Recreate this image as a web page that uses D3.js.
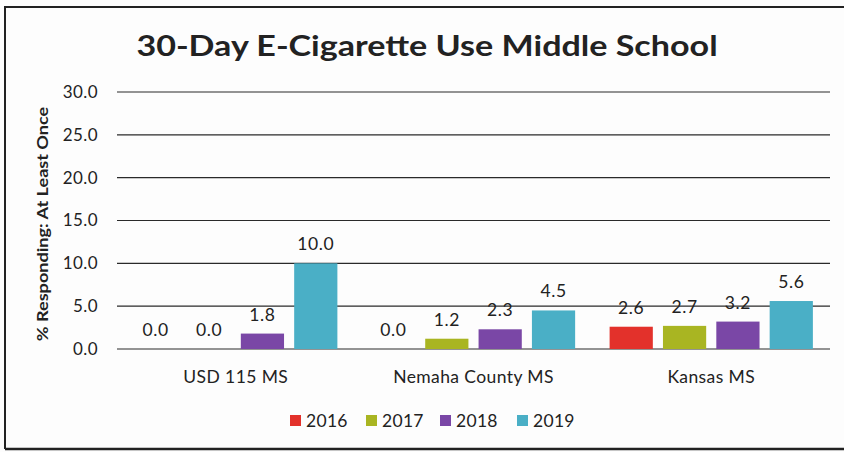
<!DOCTYPE html>
<html><head><meta charset="utf-8">
<script src="https://cdn.jsdelivr.net/npm/d3@7"></script>
<style>body{margin:0;background:#fff}svg{display:block}</style>
</head><body>
<svg id="c" width="844" height="452"></svg>
<script>
const categories = ["USD 115 MS", "Nemaha County MS", "Kansas MS"];
const years = ["2016", "2017", "2018", "2019"];
const values2016 = [0.0, 0.0, 2.6];
const values2017 = [0.0, 1.2, 2.7];
const values2018 = [1.8, 2.3, 3.2];
const values2019 = [10.0, 4.5, 5.6];
const yTicks = [0, 5, 10, 15, 20, 25, 30];
const colors = ["#e3312b", "#a9b522", "#7a47a6", "#4aafc6"];
const series = [values2016, values2017, values2018, values2019];

(function () {
const svg = d3.select("#c");
const font = "Lato, 'Open Sans', sans-serif";
const ink = "#222";

svg.append("rect").attr("x", 0).attr("y", 0).attr("width", 844).attr("height", 452).attr("fill", "#fdfdfd");
// frame
svg.append("path").attr("d", "M5,449 L5,7 L844,7").attr("fill", "none").attr("stroke", "#222").attr("stroke-width", 2);
svg.append("line").attr("x1", 5).attr("x2", 844).attr("y1", 449).attr("y2", 449).attr("stroke", "#222").attr("stroke-width", 2.5);

const pL = 117, pR = 830, pT = 92, pB = 349;
const y = d3.scaleLinear().domain([0, 30]).range([pB, pT]);
const x0 = d3.scaleBand().domain(categories).range([pL, pR]).paddingInner(0.145).paddingOuter(0.072);
const x1 = d3.scaleBand().domain(years).range([0, x0.bandwidth()]).paddingInner(0.19);

// gridlines
svg.append("g").selectAll("line").data(yTicks).join("line")
  .attr("x1", pL).attr("x2", pR)
  .attr("y1", d => y(d)).attr("y2", d => y(d))
  .attr("stroke", "#2a2a2a").attr("stroke-width", 1.2);

// y axis labels
const yAxis = d3.axisLeft(y).tickValues(yTicks).tickFormat(d3.format(".1f")).tickSize(0).tickPadding(0);
const gy = svg.append("g").attr("transform", `translate(98,0)`).call(yAxis);
gy.select(".domain").remove();
gy.selectAll("text").attr("font-family", font).attr("font-size", 17).attr("letter-spacing", 0.4).attr("fill", ink);

// x axis labels
const xAxis = d3.axisBottom(x0).tickSize(0).tickPadding(0);
const gx = svg.append("g").attr("transform", `translate(0,371)`).call(xAxis);
gx.select(".domain").remove();
gx.selectAll("text").attr("font-family", font).attr("font-size", 17.5).attr("letter-spacing", 0.4).attr("fill", ink);

// bars
const groups = svg.append("g").selectAll("g").data(categories).join("g")
  .attr("transform", d => `translate(${x0(d)},0)`);
years.forEach((yr, si) => {
  groups.append("rect")
    .attr("x", x1(yr)).attr("width", x1.bandwidth())
    .attr("y", (d, ci) => y(series[si][ci]))
    .attr("height", (d, ci) => pB - y(series[si][ci]))
    .attr("fill", colors[si]);
  groups.append("text")
    .attr("x", x1(yr) + x1.bandwidth() / 2)
    .attr("y", (d, ci) => y(series[si][ci]) - 13)
    .attr("text-anchor", "middle")
    .attr("font-family", font).attr("font-size", 17.5).attr("letter-spacing", 0.6).attr("fill", ink)
    .text((d, ci) => d3.format(".1f")(series[si][ci]));
});

// title (horizontally widened glyphs like the reference)
svg.append("text").attr("transform", "translate(427,56) scale(1.155,1)").attr("text-anchor", "middle")
  .attr("font-family", font).attr("font-weight", "bold").attr("font-size", 29.5).attr("fill", ink)
  .text("30-Day E-Cigarette Use Middle School");

// y title
svg.append("text").attr("transform", "translate(48,224) rotate(-90) scale(1.13,1)").attr("text-anchor", "middle")
  .attr("font-family", font).attr("font-weight", "bold").attr("font-size", 16).attr("fill", ink)
  .text("% Responding: At Least Once");

// legend
const legX = [290, 366, 440, 517];
const lg = svg.append("g").selectAll("g").data(years).join("g")
  .attr("transform", (d, i) => `translate(${legX[i]},0)`);
lg.append("rect").attr("x", 0).attr("y", 415).attr("width", 11).attr("height", 11).attr("fill", (d, i) => colors[i]);
lg.append("text").attr("x", 16).attr("y", 427).attr("font-family", font).attr("font-size", 17.5).attr("letter-spacing", 0.3).attr("fill", ink).text(d => d);
})();
</script>
</body></html>
